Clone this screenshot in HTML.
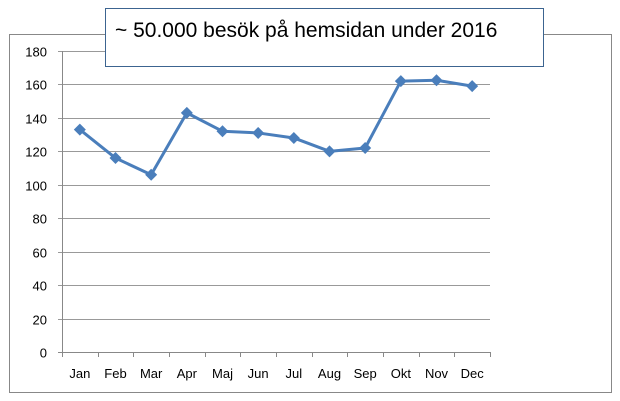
<!DOCTYPE html>
<html><head><meta charset="utf-8"><style>
body{margin:0;background:#fff;}
svg{display:block;font-family:"Liberation Sans",sans-serif;}
</style></head><body>
<svg width="620" height="401">
<rect x="9.5" y="34.5" width="602" height="358" fill="#fff" stroke="#888"/>
<g id="grid"></g><g id="axes"></g><g id="series"></g>
<rect x="105.5" y="8.5" width="438" height="58" fill="#fff" stroke="#3c6490"/>
<text x="115" y="37" font-size="21" fill="#000">~ 50.000 besök på hemsidan under 2016</text>
</svg>
<script>
const categories=["Jan","Feb","Mar","Apr","Maj","Jun","Jul","Aug","Sep","Okt","Nov","Dec"];
const visits=[133,116,106,143,132,131,128,120,122,162,162.5,159];
const yTicks=[0,20,40,60,80,100,120,140,160,180];
const NS="http://www.w3.org/2000/svg";
const X0=62,X1=490,Y0=352,Y1=51,YMAX=180;
const bw=(X1-X0)/categories.length;
const xs=i=>X0+bw*(i+0.5);
const ys=v=>Y0-(v/YMAX)*(Y0-Y1);
function mk(t,a,p){const e=document.createElementNS(NS,t);for(const k in a)e.setAttribute(k,a[k]);p.appendChild(e);return e;}
const g=document.getElementById('grid'),ax=document.getElementById('axes'),s=document.getElementById('series');
yTicks.forEach(v=>{const y=Math.round(ys(v))+0.5;
 const l=mk('line',{x1:X0-4,x2:X1,y1:y,y2:y,stroke:v===0?'#888':'#999'},g);
 
 
 const t=mk('text',{x:47,y:y+5,'text-anchor':'end','font-size':13,fill:'#000'},ax);t.textContent=v;
 
 
});
const ya=mk('line',{x1:X0+0.5,x2:X0+0.5,y1:Y1,y2:Y0,stroke:'#888'},ax);


for(let i=0;i<=categories.length;i++){const x=Math.round(X0+bw*i)+0.5;
 const tk=mk('line',{x1:x,x2:x,y1:Y0,y2:Y0+5,stroke:'#888'},ax);
 
 }
categories.forEach((c,i)=>{const t=mk('text',{x:xs(i),y:378,'text-anchor':'middle','font-size':13,fill:'#000'},ax);t.textContent=c;
 
 });
const line=mk('polyline',{points:visits.map((v,i)=>xs(i)+','+ys(v)).join(' '),fill:'none',stroke:'#4a7ebb','stroke-width':3,'stroke-linejoin':'round'},s);


visits.forEach((v,i)=>{const x=xs(i),y=ys(v);
 const p=mk('polygon',{points:`${x},${y-6} ${x+6},${y} ${x},${y+6} ${x-6},${y}`,fill:'#4a7ebb'},s);
 
 });
</script>
</body></html>
